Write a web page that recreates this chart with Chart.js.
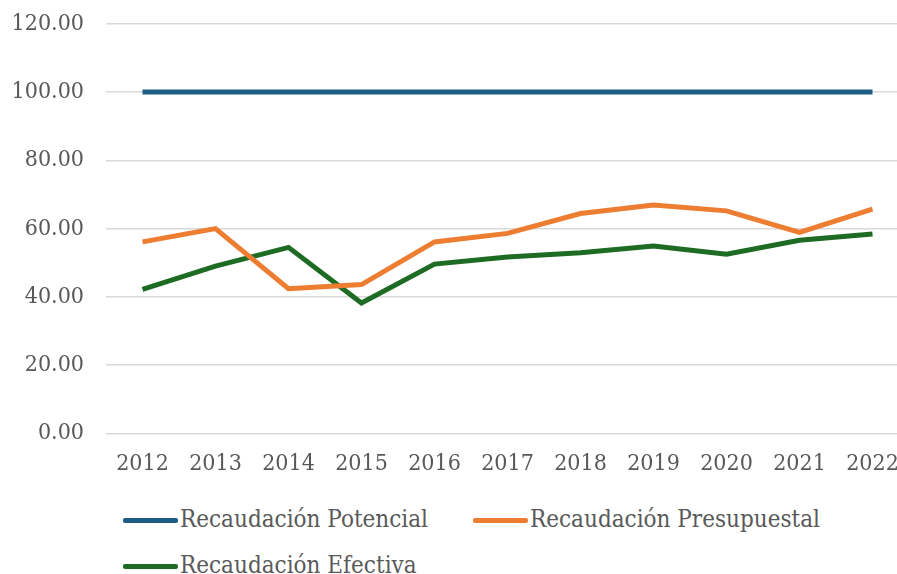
<!DOCTYPE html>
<html>
<head>
<meta charset="utf-8">
<script src="https://cdn.jsdelivr.net/npm/chart.js@4"></script>
<style>
  html, body { margin: 0; padding: 0; background: #fff; overflow: hidden; }
  #wrap { position: relative; top: -12px; width: 912px; height: 499px; }
  #legend { position: absolute; left: 123px; top: 496px; width: 774px; font-family: "DejaVu Serif Condensed", "DejaVu Serif", serif; font-stretch: condensed; font-size: 24px; color: #595959; }
  .item { display: inline-block; width: 350px; height: 46px; line-height: 46px; white-space: nowrap; }
  .mark { display: inline-block; width: 55px; height: 5px; border-radius: 2px; vertical-align: middle; margin-right: 2px; }
</style>
</head>
<body>
<div id="wrap"><canvas id="recaudacion"></canvas></div>
<div id="legend"></div>
<script>
// datos del grafico
var years = ['2012', '2013', '2014', '2015', '2016', '2017', '2018', '2019', '2020', '2021', '2022'];
var potencial = [100, 100, 100, 100, 100, 100, 100, 100, 100, 100, 100];
var presupuestal = [56.1, 60.0, 42.4, 43.6, 56.1, 58.6, 64.4, 66.9, 65.2, 58.9, 65.7];
var efectiva = [42.2, 49.0, 54.5, 38.2, 49.6, 51.7, 52.9, 54.9, 52.5, 56.6, 58.4];

var fontSerif = "'DejaVu Serif Condensed', 'DejaVu Serif', serif";

const recaudacion = document.getElementById('recaudacion');

const recaudacionChart = new Chart(recaudacion, {
    type: 'line',
    data: {
        labels: years,
        datasets: [
            {
                label: 'Recaudación Potencial',
                data: potencial,
                borderColor: '#1d5d85',
                backgroundColor: '#1d5d85',
                borderWidth: 5,
                pointRadius: 0,
                tension: 0
            },
            {
                label: 'Recaudación Presupuestal',
                data: presupuestal,
                borderColor: '#ed7d31',
                backgroundColor: '#ed7d31',
                borderWidth: 5,
                pointRadius: 0,
                tension: 0
            },
            {
                label: 'Recaudación Efectiva',
                data: efectiva,
                borderColor: '#1e6b24',
                backgroundColor: '#1e6b24',
                borderWidth: 5,
                pointRadius: 0,
                tension: 0
            }
        ]
    },
    options: {
        responsive: true,
        maintainAspectRatio: false,
        animation: false,
        layout: {
            padding: { left: 10, top: 0, right: 3, bottom: 0 }
        },
        plugins: {
            legend: { display: false },
            tooltip: { enabled: false }
        },
        scales: {
            x: {
                offset: true,
                grid: { display: false },
                border: { display: false },
                ticks: {
                    color: '#595959',
                    padding: 9,
                    maxRotation: 0,
                    font: { family: fontSerif, size: 23 }
                }
            },
            y: {
                min: 0,
                max: 120,
                border: { display: false },
                grid: { color: '#d9d9d9', lineWidth: 1.5, drawTicks: false },
                afterFit: function (scale) { scale.width = 96; },
                ticks: {
                    stepSize: 20,
                    color: '#595959',
                    padding: 22,
                    font: { family: fontSerif, size: 23 },
                    callback: function (v) { return Number(v).toFixed(2); }
                }
            }
        }
    }
});

// leyenda
var legend = document.getElementById('legend');
recaudacionChart.data.datasets.forEach(function (ds) {
    var item = document.createElement('span');
    item.className = 'item';
    var mark = document.createElement('span');
    mark.className = 'mark';
    mark.style.background = ds.borderColor;
    item.appendChild(mark);
    item.appendChild(document.createTextNode(ds.label));
    legend.appendChild(item);
});
</script>
</body>
</html>
